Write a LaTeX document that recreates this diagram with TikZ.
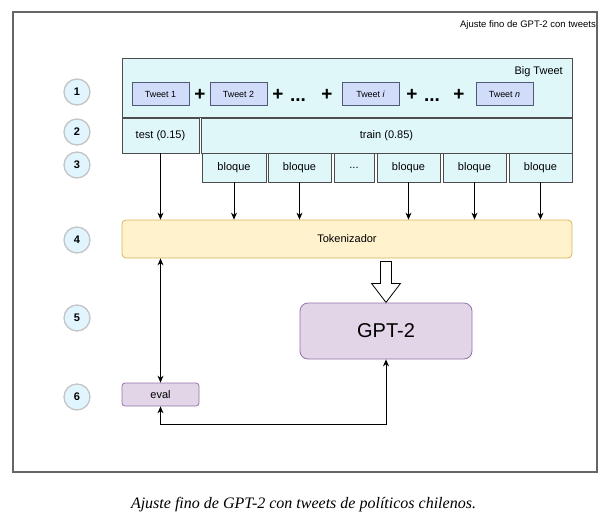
\documentclass[tikz,border=0pt]{standalone}
\usepackage{fontspec}
\setmainfont{Liberation Sans}
\newfontfamily\capfont{Liberation Serif}
\usetikzlibrary{arrows.meta}
\definecolor{bigfill}{HTML}{E0F7FA}
\definecolor{boxline}{HTML}{4D4D4D}
\definecolor{tweetfill}{HTML}{D0DCFA}
\definecolor{tweetline}{HTML}{505A78}
\definecolor{tokfill}{HTML}{FFF2CC}
\definecolor{tokline}{HTML}{D6B656}
\definecolor{gptfill}{HTML}{E1D5E7}
\definecolor{gptline}{HTML}{9673A6}
\definecolor{numfill}{HTML}{E1F5FE}
\definecolor{numline}{HTML}{C4C4C4}
\definecolor{framegray}{HTML}{666666}
\begin{document}
\begin{tikzpicture}[x=1pt,y=-1pt,
	box/.style={draw=boxline, fill=bigfill, line width=0.8pt, inner sep=0pt, font=\fontsize{11}{13}\selectfont},
	tweet/.style={draw=tweetline, fill=tweetfill, line width=0.8pt, minimum width=57pt, minimum height=23pt, inner sep=0pt, font=\fontsize{8.9}{10}\selectfont},
	purple/.style={draw=gptline, fill=gptfill, line width=0.8pt, inner sep=0pt},
	num/.style={circle, draw=numline, line width=1.3pt, fill=numfill, minimum size=26pt, inner sep=0pt, font=\fontsize{11}{13}\selectfont\bfseries},
	plus/.style={inner sep=0pt, font=\fontsize{19}{21}\selectfont\bfseries},
	link/.style={-{Stealth[length=7pt,width=6pt]}, line width=0.9pt},
	twoway/.style={{Stealth[length=7pt,width=6pt]}-{Stealth[length=7pt,width=6pt]}, line width=0.9pt}]
	\useasboundingbox (0,0) rectangle (603,520);
	\draw[framegray, line width=1.3pt] (13,12) rectangle (597,472);
	\node[anchor=east, inner sep=0pt, font=\fontsize{9.5}{11}\selectfont] (title) at (596,25) {Ajuste fino de GPT-2 con tweets};

	\node[num] (n1) at (77,92) {1};
	\node[num] (n2) at (77,132) {2};
	\node[num] (n3) at (77,165) {3};
	\node[num] (n4) at (77,240) {4};
	\node[num] (n5) at (77,318) {5};
	\node[num] (n6) at (77,397) {6};

	\node[box, minimum width=450pt, minimum height=59pt] (big) at (347,87.5) {};
	\node[anchor=east, inner sep=0pt, font=\fontsize{11}{13}\selectfont] (bigname) at (563,72) {Big Tweet};
	\node[tweet] (tw1) at (160.5,94) {Tweet 1};
	\node[plus] (p1) at (200,95) {+};
	\node[tweet] (tw2) at (238.5,94) {Tweet 2};
	\node[plus] (p2) at (278,95) {+};
	\node[plus] (d1) at (298,100) {...};
	\node[plus] (p3) at (327,95) {+};
	\node[tweet] (twi) at (370.5,94) {Tweet \textit{i}};
	\node[plus] (p4) at (412,95) {+};
	\node[plus] (d2) at (432,100) {...};
	\node[plus] (p5) at (459,95) {+};
	\node[tweet] (twn) at (504.5,94) {Tweet \textit{n}};

	\node[box, minimum width=77pt, minimum height=35pt] (test) at (160.5,135.5) {test (0.15)};
	\node[box, minimum width=371pt, minimum height=35pt] (train) at (386.5,135.5) {train (0.85)};

	\node[box, minimum width=64pt, minimum height=29pt] (b1) at (234,167.5) {bloque};
	\node[box, minimum width=63pt, minimum height=29pt] (b2) at (299.5,167.5) {bloque};
	\node[box, minimum width=40pt, minimum height=29pt] (bdots) at (354,167.5) {...};
	\node[box, minimum width=63pt, minimum height=29pt] (b3) at (408.5,167.5) {bloque};
	\node[box, minimum width=63pt, minimum height=29pt] (b4) at (474.5,167.5) {bloque};
	\node[box, minimum width=63pt, minimum height=29pt] (b5) at (540.5,167.5) {bloque};

	\node[draw=tokline, fill=tokfill, line width=0.8pt, rounded corners=4pt, minimum width=450pt, minimum height=38pt, font=\fontsize{11}{13}\selectfont] (tok) at (347,239) {Tokenizador};
	\node[purple, rounded corners=8pt, minimum width=172pt, minimum height=56pt, font=\fontsize{20}{24}\selectfont] (gpt) at (386,331) {GPT-2};
	\node[purple, rounded corners=3pt, minimum width=77pt, minimum height=23pt, font=\fontsize{11}{13}\selectfont] (eval) at (160.5,394.5) {eval};

	\draw[link] (test.south) -- (test.south |- tok.north);
	\draw[link] (b1.south) -- (b1.south |- tok.north);
	\draw[link] (b2.south) -- (b2.south |- tok.north);
	\draw[link] (b3.south) -- (b3.south |- tok.north);
	\draw[link] (b4.south) -- (b4.south |- tok.north);
	\draw[link] (b5.south) -- (b5.south |- tok.north);

	\coordinate (fat) at (gpt.north |- tok.south);
	\draw[fill=white, line width=0.8pt] ([yshift=-3pt]fat) ++(-5.5,0) -- ++(11,0) -- ++(0,22) -- ++(9,0) -- ++(-14.5,19) -- ++(-14.5,-19) -- ++(9,0) -- cycle;

	\draw[twoway] (eval.north) -- (eval.north |- tok.south);
	\draw[twoway] (eval.south) -- ++(0,18) -| (gpt.south);

	\node[font=\capfont\itshape\fontsize{16}{18}\selectfont] (caption) at (303.5,505) {Ajuste fino de GPT-2 con tweets de políticos chilenos.};
\end{tikzpicture}
\end{document}
